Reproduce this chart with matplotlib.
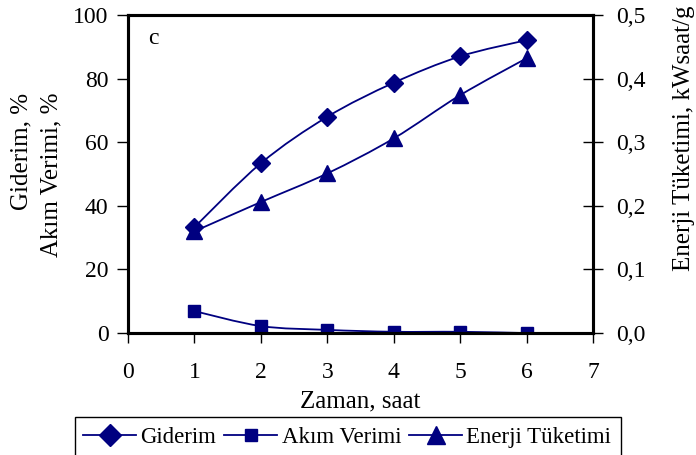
import matplotlib
matplotlib.use('Agg')
import matplotlib.pyplot as plt
from matplotlib.path import Path
from matplotlib.patches import PathPatch, Rectangle
from matplotlib.lines import Line2D
import numpy as np

plt.rcParams['font.family'] = 'Liberation Serif'
plt.rcParams['font.size'] = 17

# ---- data ----
saat = [1, 2, 3, 4, 5, 6]
giderim = [33.3, 53.4, 68.0, 78.7, 87.0, 92.1]
akim_verimi = [6.9, 2.2, 1.0, 0.4, 0.4, 0.0]
enerji = [0.160, 0.206, 0.251, 0.306, 0.374, 0.432]

navy = '#000080'


def smooth_path(x, y):
    # Excel-style smoothed line (Catmull-Rom as bezier curves)
    x = np.asarray(x, float)
    y = np.asarray(y, float)
    pts = np.column_stack([x, y])
    verts = [pts[0]]
    codes = [Path.MOVETO]
    n = len(pts)
    for i in range(n - 1):
        p0 = pts[i - 1] if i > 0 else pts[i]
        p1 = pts[i]
        p2 = pts[i + 1]
        p3 = pts[i + 2] if i + 2 < n else pts[i + 1]
        c1 = p1 + (p2 - p0) / 6.0
        c2 = p2 - (p3 - p1) / 6.0
        verts += [c1, c2, p2]
        codes += [Path.CURVE4] * 3
    return Path(verts, codes)


fig = plt.figure(figsize=(6.96, 4.55), dpi=100)
ax = fig.add_axes([0.184, 0.268, 0.668, 0.699])
ax2 = ax.twinx()

ax.add_patch(PathPatch(smooth_path(saat, giderim), fill=False, edgecolor=navy, lw=1.3))
ax.plot(saat, giderim, ls='none', marker='D', ms=9, color=navy)
ax.add_patch(PathPatch(smooth_path(saat, akim_verimi), fill=False, edgecolor=navy, lw=1.3))
ax.plot(saat, akim_verimi, ls='none', marker='s', ms=8, color=navy)
ax2.add_patch(PathPatch(smooth_path(saat, enerji), fill=False, edgecolor=navy, lw=1.3))
ax2.plot(saat, enerji, ls='none', marker='^', ms=12, color=navy)

ax.set_xlim(0, 7)
ax.set_ylim(0, 100)
ax2.set_ylim(0, 0.5)
ax.set_xticks(range(0, 8))
ax.set_yticks(range(0, 101, 20))
ax2.set_yticks([0, 0.1, 0.2, 0.3, 0.4, 0.5])
ax2.set_yticklabels(['0,0', '0,1', '0,2', '0,3', '0,4', '0,5'])

for a in (ax, ax2):
    for s in a.spines.values():
        s.set_linewidth(2.2)
ax.tick_params(axis='y', direction='out', length=8, width=1, pad=6)
ax.tick_params(axis='x', direction='out', length=7, width=1, pad=14)
ax2.tick_params(axis='y', direction='inout', length=14, width=1, pad=10)

ax.text(0.3, 91, 'c', fontsize=17)

ax.set_xlabel('Zaman, saat', fontsize=18, labelpad=5)
fig.text(0.031, 0.796, 'Giderim, %', rotation=90, ha='center', va='top', fontsize=18)
fig.text(0.074, 0.796, 'Akım Verimi, %', rotation=90, ha='center', va='top', fontsize=18)
fig.text(0.983, 0.989, 'Enerji Tüketimi, kWsaat/g', rotation=90, ha='center', va='top', fontsize=18)

# legend box runs off the bottom edge, as in the original
fig.patches.append(Rectangle((75 / 696, -0.1), (621 - 75) / 696, 0.1 + (455 - 417) / 455,
                             transform=fig.transFigure, fill=False, edgecolor='black', lw=1.0))
handles = [Line2D([], [], color=navy, lw=1.3, marker='D', ms=11),
           Line2D([], [], color=navy, lw=1.3, marker='s', ms=8),
           Line2D([], [], color=navy, lw=1.3, marker='^', ms=13)]
leg = fig.legend(handles, ['Giderim', 'Akım Verimi', 'Enerji Tüketimi'],
                 loc='center left', bbox_to_anchor=(0.108, 1 - 437 / 455), ncol=3,
                 numpoints=1, fontsize=16.5, handlelength=2.3, handletextpad=0.2,
                 columnspacing=0.35, frameon=False, borderpad=0.35, borderaxespad=0)

fig.savefig('out.png', dpi=100)
